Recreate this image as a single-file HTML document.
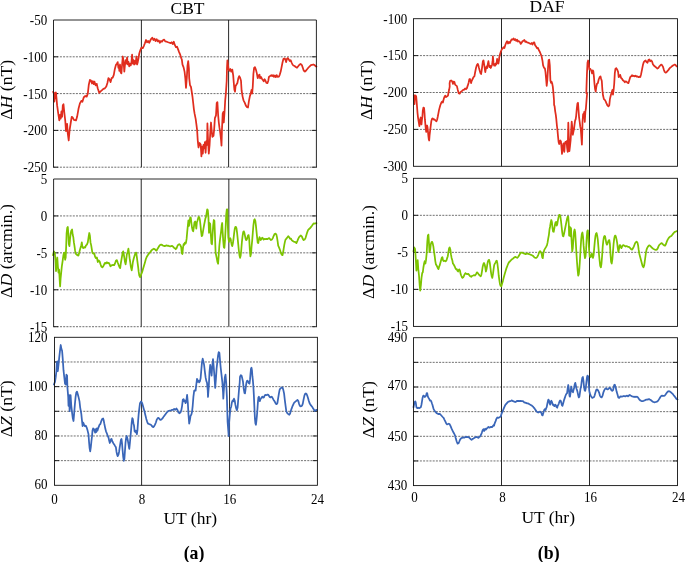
<!DOCTYPE html>
<html><head><meta charset="utf-8"><title>Figure</title>
<style>
html,body{margin:0;padding:0;background:#fff;}
svg{display:block;}
text{font-family:"Liberation Serif","Times New Roman",serif;fill:#000;}
.tk{font-size:15.6px;}
.ax{font-size:17.5px;}
.fr{fill:none;stroke:#111;stroke-width:0.9;}
.gd{stroke:#333;stroke-width:0.7;stroke-dasharray:2 1.2;}
.tm{stroke:#111;stroke-width:0.9;}
.vl{stroke:#111;stroke-width:0.9;}
.cv{fill:none;stroke-width:1.75;stroke-linejoin:round;stroke-linecap:round;}
</style></head><body>
<svg width="685" height="562" viewBox="0 0 685 562">
<rect width="685" height="562" fill="#fff"/>
<g id="L1">
<text class="tk" text-anchor="end" transform="translate(47.2,25.0) scale(0.835,1)">-50</text>
<line class="gd" x1="53.5" x2="316.4" y1="56.80" y2="56.80"/>
<line class="tm" x1="53.5" x2="58.0" y1="56.80" y2="56.80"/>
<line class="tm" x1="311.9" x2="316.4" y1="56.80" y2="56.80"/>
<text class="tk" text-anchor="end" transform="translate(47.2,61.8) scale(0.835,1)">-100</text>
<line class="gd" x1="53.5" x2="316.4" y1="93.60" y2="93.60"/>
<line class="tm" x1="53.5" x2="58.0" y1="93.60" y2="93.60"/>
<line class="tm" x1="311.9" x2="316.4" y1="93.60" y2="93.60"/>
<text class="tk" text-anchor="end" transform="translate(47.2,98.6) scale(0.835,1)">-150</text>
<line class="gd" x1="53.5" x2="316.4" y1="130.40" y2="130.40"/>
<line class="tm" x1="53.5" x2="58.0" y1="130.40" y2="130.40"/>
<line class="tm" x1="311.9" x2="316.4" y1="130.40" y2="130.40"/>
<text class="tk" text-anchor="end" transform="translate(47.2,135.4) scale(0.835,1)">-200</text>
<text class="tk" text-anchor="end" transform="translate(47.2,172.2) scale(0.835,1)">-250</text>
<line class="vl" x1="141.40" x2="141.40" y1="20.0" y2="167.2"/>
<line class="vl" x1="228.60" x2="228.60" y1="20.0" y2="167.2"/>
<path class="cv" stroke="#e02d1e" d="M53.2,91.9 L53.9,93.6 L54.3,101.7 L55.3,92.8 L55.9,92.4 L56.4,97.2 L57.1,105.2 L58.2,113.2 L59.3,120.4 L60.0,115.0 L60.7,118.6 L61.4,111.5 L62.1,116.8 L62.8,105.2 L63.5,104.3 L64.2,111.5 L65.3,121.2 L66.0,131.1 L67.1,123.9 L67.8,133.7 L68.7,140.5 L69.6,130.2 L70.7,123.0 L71.7,116.8 L72.8,117.7 L73.9,119.8 L76.0,120.4 L77.1,116.8 L78.5,108.8 L79.9,103.4 L81.3,100.8 L82.4,101.7 L83.8,97.2 L85.3,96.0 L86.7,96.7 L87.8,93.6 L88.8,84.7 L89.9,79.9 L91.0,80.6 L92.0,83.5 L92.8,81.2 L93.8,84.2 L94.5,81.7 L95.6,85.3 L96.7,83.8 L97.7,88.3 L99.2,92.8 L100.6,91.3 L102.0,90.1 L103.4,88.8 L104.9,88.3 L106.3,86.5 L107.4,83.0 L108.4,78.1 L109.5,79.4 L110.6,82.1 L111.6,78.1 L112.7,77.6 L113.8,74.9 L114.8,69.2 L115.9,65.1 L117.0,63.4 L117.7,62.1 L118.4,67.8 L119.1,66.0 L119.3,70.8 L120.0,64.5 L120.7,72.5 L121.4,73.4 L122.1,64.5 L122.8,56.5 L123.5,61.0 L124.3,71.7 L125.0,64.5 L125.7,60.1 L126.4,63.6 L127.1,57.4 L127.8,64.5 L128.5,61.9 L129.2,66.3 L130.0,63.6 L130.7,65.4 L131.4,62.8 L132.1,54.7 L132.8,63.6 L133.5,60.1 L134.2,64.5 L134.9,61.0 L135.7,63.6 L136.4,56.5 L137.1,64.5 L137.8,61.9 L138.5,58.3 L139.2,53.8 L140.3,50.3 L141.4,47.6 L142.8,48.1 L143.9,45.8 L144.9,43.2 L146.0,40.0 L147.1,42.3 L148.1,41.0 L149.2,42.8 L150.3,40.5 L151.3,38.7 L152.4,37.8 L153.5,40.0 L154.5,38.7 L155.6,41.0 L156.7,39.2 L157.8,41.4 L158.8,40.5 L159.9,42.8 L161.0,41.0 L162.0,41.7 L163.1,40.0 L164.2,39.6 L165.2,41.4 L166.7,41.7 L168.1,42.3 L169.5,42.8 L170.6,43.2 L171.6,42.3 L172.7,44.0 L173.8,41.7 L174.8,44.9 L175.9,47.1 L177.0,46.7 L178.1,49.4 L179.1,52.1 L180.2,54.7 L181.3,58.3 L181.8,59.4 L182.5,64.7 L183.6,67.4 L184.6,71.9 L185.3,78.1 L186.0,87.9 L186.8,78.1 L187.5,65.6 L188.2,61.2 L188.9,68.3 L189.2,78.1 L190.0,85.2 L191.0,87.0 L191.7,91.5 L192.5,96.8 L193.2,103.0 L193.9,109.3 L194.6,113.7 L195.7,119.1 L196.4,124.4 L197.1,129.8 L197.8,141.2 L198.5,147.5 L199.6,143.0 L200.7,144.5 L201.4,156.4 L202.1,146.6 L202.8,153.7 L203.5,144.8 L204.2,148.4 L204.9,142.1 L205.6,152.8 L206.3,141.2 L207.1,144.8 L207.4,123.4 L208.1,141.2 L208.8,153.7 L209.6,144.8 L210.3,132.3 L211.0,122.5 L211.7,130.6 L212.4,136.8 L213.5,135.9 L214.2,128.8 L214.9,118.1 L216.0,115.4 L216.7,103.0 L217.4,102.1 L218.1,114.5 L218.8,122.5 L219.5,127.9 L220.2,132.3 L221.0,139.5 L221.5,145.7 L222.0,128.8 L222.7,113.6 L223.4,111.9 L223.8,122.5 L224.5,112.8 L225.2,100.3 L225.9,93.2 L226.7,80.7 L227.0,67.8 L227.4,60.3 L228.0,64.8 L228.6,69.6 L229.5,70.8 L230.4,69.0 L231.3,71.6 L232.3,69.6 L233.2,75.4 L233.8,83.0 L234.4,89.8 L235.0,91.7 L235.6,86.0 L236.5,84.5 L237.4,83.0 L238.3,78.4 L239.2,76.1 L240.1,77.7 L241.0,80.7 L241.6,90.5 L242.6,96.6 L243.5,100.3 L244.7,102.6 L245.9,105.6 L247.1,107.2 L248.0,107.5 L248.9,101.1 L249.8,96.6 L250.7,93.5 L251.6,89.8 L252.2,93.5 L252.8,86.0 L253.4,73.9 L254.1,67.8 L254.9,67.1 L255.9,69.6 L256.8,73.1 L257.7,78.1 L258.6,75.4 L259.5,74.6 L260.1,78.4 L261.0,76.9 L261.9,78.7 L262.8,79.9 L263.7,81.4 L264.6,79.2 L265.5,80.7 L266.4,83.0 L267.4,83.2 L268.3,80.7 L268.9,76.9 L270.1,76.1 L271.3,75.1 L272.2,76.1 L273.1,75.1 L274.0,76.9 L274.9,75.4 L275.8,77.2 L276.7,75.1 L277.6,76.9 L278.9,76.6 L279.8,74.6 L280.7,71.6 L281.6,67.1 L282.5,62.5 L283.4,59.0 L284.3,58.4 L285.2,59.0 L286.1,62.1 L287.0,58.7 L287.9,58.1 L288.8,59.5 L289.8,61.0 L290.7,60.3 L291.6,62.5 L292.5,64.5 L293.4,65.5 L294.6,66.0 L295.8,67.1 L297.0,67.8 L298.2,66.3 L299.4,64.8 L300.6,64.0 L301.9,65.1 L302.8,67.8 L303.7,70.5 L304.9,71.6 L306.1,70.5 L307.3,69.0 L308.5,67.5 L309.7,66.3 L310.9,65.1 L312.1,64.8 L313.4,64.5 L314.6,65.1 L315.8,66.3 L316.4,66.6"/>
<path class="fr" d="M53.5,167.2 L53.5,20.0 L316.4,20.0 L316.4,167.2"/>
<line class="gd" x1="53.5" x2="316.4" y1="167.2" y2="167.2"/>
<line class="tm" x1="53.05" x2="58.0" y1="167.2" y2="167.2"/>
<line class="tm" x1="311.9" x2="316.84999999999997" y1="167.2" y2="167.2"/>
</g>
<g id="L2">
<text class="tk" text-anchor="end" transform="translate(47.3,184.0) scale(0.835,1)">5</text>
<line class="gd" x1="53.6" x2="316.45" y1="215.93" y2="215.93"/>
<line class="tm" x1="53.6" x2="58.1" y1="215.93" y2="215.93"/>
<line class="tm" x1="311.95" x2="316.45" y1="215.93" y2="215.93"/>
<text class="tk" text-anchor="end" transform="translate(47.3,220.9) scale(0.835,1)">0</text>
<line class="gd" x1="53.6" x2="316.45" y1="252.85" y2="252.85"/>
<line class="tm" x1="53.6" x2="58.1" y1="252.85" y2="252.85"/>
<line class="tm" x1="311.95" x2="316.45" y1="252.85" y2="252.85"/>
<text class="tk" text-anchor="end" transform="translate(47.3,257.9) scale(0.835,1)">-5</text>
<line class="gd" x1="53.6" x2="316.45" y1="289.77" y2="289.77"/>
<line class="tm" x1="53.6" x2="58.1" y1="289.77" y2="289.77"/>
<line class="tm" x1="311.95" x2="316.45" y1="289.77" y2="289.77"/>
<text class="tk" text-anchor="end" transform="translate(47.3,294.8) scale(0.835,1)">-10</text>
<text class="tk" text-anchor="end" transform="translate(47.3,331.7) scale(0.835,1)">-15</text>
<line class="vl" x1="141.22" x2="141.22" y1="179.0" y2="326.7"/>
<line class="vl" x1="228.83" x2="228.83" y1="179.0" y2="326.7"/>
<path class="cv" stroke="#7cc400" d="M53.0,255.2 L53.9,251.4 L54.8,252.9 L55.5,260.5 L56.0,271.1 L56.7,263.5 L57.3,257.5 L57.9,266.6 L58.5,272.6 L59.1,269.6 L59.7,280.2 L60.1,286.5 L60.6,278.7 L61.2,272.6 L61.8,266.6 L62.7,260.5 L63.3,256.0 L63.9,252.9 L64.5,252.7 L65.1,259.8 L65.7,257.5 L66.2,245.4 L66.6,233.3 L67.2,228.0 L67.8,226.9 L68.3,233.3 L68.8,243.9 L69.4,246.1 L70.0,239.3 L70.6,234.0 L71.2,231.0 L72.1,229.5 L72.7,234.8 L73.3,237.1 L73.9,242.4 L74.5,246.1 L75.1,250.7 L75.7,253.7 L76.6,254.5 L77.5,255.2 L78.4,255.7 L79.3,252.2 L80.3,248.4 L81.2,245.4 L81.8,242.4 L82.4,246.9 L83.3,248.1 L84.2,247.2 L85.1,247.7 L86.0,245.4 L86.9,244.6 L87.8,242.4 L88.7,236.3 L89.3,233.0 L89.9,235.6 L90.5,242.4 L91.2,245.4 L91.8,249.2 L92.4,252.9 L93.3,253.7 L94.2,253.2 L95.1,256.7 L96.0,258.2 L96.9,257.5 L97.8,262.0 L98.7,260.5 L99.6,261.3 L100.5,264.3 L101.4,266.6 L102.3,267.3 L103.2,266.3 L104.2,264.3 L105.1,262.8 L106.0,263.5 L106.9,262.3 L107.8,263.2 L108.7,262.8 L109.6,264.3 L110.5,266.3 L111.4,265.4 L112.3,265.1 L113.2,264.8 L114.2,265.1 L115.0,263.5 L116.0,260.5 L116.9,260.2 L117.8,262.8 L118.7,265.1 L119.6,267.3 L120.2,268.1 L120.8,263.5 L121.7,258.2 L122.6,252.9 L123.2,251.4 L123.8,254.5 L124.4,258.2 L125.0,262.0 L125.6,264.3 L126.2,260.5 L126.8,254.5 L127.8,251.4 L128.4,248.7 L129.0,252.9 L129.6,258.2 L130.2,262.0 L130.8,266.6 L131.7,270.4 L132.3,266.6 L132.9,262.0 L133.8,258.2 L134.7,255.2 L135.6,252.9 L136.2,252.7 L136.8,256.7 L137.4,261.3 L138.1,266.6 L138.7,271.9 L139.3,275.6 L140.2,277.2 L140.3,276.7 L141.2,274.4 L142.1,272.2 L143.0,269.1 L143.9,266.1 L144.8,263.1 L145.8,259.3 L146.7,257.0 L147.6,255.5 L148.5,254.3 L149.4,252.8 L150.3,252.2 L151.2,250.7 L152.1,249.8 L153.0,249.2 L153.9,248.7 L154.8,249.2 L155.7,250.2 L156.6,250.7 L157.6,248.7 L158.5,247.2 L159.4,245.7 L160.3,244.9 L161.2,244.6 L162.1,244.9 L163.0,245.7 L163.9,245.8 L164.8,246.1 L165.7,245.7 L166.6,245.4 L167.5,245.8 L168.4,245.7 L169.3,246.1 L170.3,246.4 L171.2,246.1 L172.1,245.8 L173.0,246.7 L173.9,247.7 L174.8,248.2 L175.7,249.2 L176.6,248.2 L177.5,245.7 L178.4,244.6 L179.3,244.2 L180.2,244.9 L181.2,247.2 L181.8,253.2 L182.4,254.0 L183.0,247.9 L183.6,244.2 L184.2,244.9 L184.8,242.7 L185.4,243.7 L186.0,242.7 L186.6,238.9 L187.2,232.1 L187.8,226.0 L188.4,220.4 L189.0,226.0 L189.6,221.5 L190.2,217.4 L190.8,217.7 L191.4,223.0 L192.0,227.5 L192.7,230.6 L193.2,231.3 L193.9,226.8 L194.5,222.2 L195.1,221.5 L195.7,223.7 L196.3,228.6 L196.9,222.2 L197.5,220.7 L198.1,218.4 L198.7,216.9 L199.3,217.4 L199.9,220.0 L200.5,225.3 L201.1,231.3 L201.7,236.2 L202.3,235.5 L202.9,232.1 L203.5,228.3 L204.2,224.5 L204.8,221.5 L205.4,218.4 L206.0,216.9 L206.6,213.2 L207.2,209.4 L207.8,210.1 L208.4,216.9 L209.0,232.8 L209.6,223.0 L210.2,223.7 L210.8,234.3 L211.4,243.4 L212.0,244.2 L212.6,234.3 L213.2,225.3 L213.8,220.0 L214.4,220.7 L215.0,235.8 L215.6,252.5 L216.2,255.5 L216.8,258.5 L217.5,262.3 L218.1,263.8 L218.7,255.5 L219.3,246.4 L219.9,240.4 L220.5,235.8 L221.1,231.3 L221.7,225.3 L222.2,223.0 L222.6,231.3 L223.2,240.4 L223.8,247.2 L224.4,247.9 L225.0,240.4 L225.6,228.3 L226.2,214.7 L226.8,209.4 L227.3,209.4 L227.8,225.3 L228.3,237.4 L229.0,241.9 L229.6,238.9 L230.2,238.1 L230.8,239.6 L231.1,241.9 L231.7,244.9 L232.3,246.1 L232.9,243.4 L233.5,238.9 L234.1,233.6 L234.7,229.0 L235.3,227.1 L235.9,226.8 L236.5,228.3 L237.1,232.8 L237.7,238.9 L238.3,244.9 L238.9,251.0 L239.5,255.5 L240.1,257.8 L240.7,255.5 L241.3,249.5 L241.9,241.9 L242.6,235.8 L243.2,232.1 L243.8,231.3 L244.4,232.8 L245.0,235.8 L245.6,238.9 L246.2,240.1 L246.8,239.6 L247.4,237.4 L248.0,235.5 L248.6,235.1 L249.2,238.9 L249.8,249.5 L250.4,256.3 L251.0,254.0 L251.6,246.4 L252.2,240.4 L252.8,232.8 L253.4,225.3 L254.1,220.0 L254.7,219.2 L255.3,220.7 L255.9,225.3 L256.5,231.3 L257.1,237.4 L257.7,242.7 L258.3,243.1 L258.9,239.6 L259.5,237.1 L260.1,238.1 L260.7,240.1 L261.3,239.2 L261.9,238.1 L262.5,237.7 L263.1,238.9 L263.7,239.6 L264.6,238.9 L265.5,239.2 L266.4,238.9 L267.4,239.2 L268.3,238.6 L269.2,238.1 L270.1,239.2 L271.0,240.1 L271.9,239.6 L272.8,238.1 L273.7,235.8 L274.6,234.0 L275.5,233.6 L276.4,234.6 L277.0,237.4 L277.6,241.1 L278.2,245.7 L279.2,247.9 L280.1,250.2 L281.0,253.2 L281.9,254.8 L282.5,255.2 L283.1,252.5 L283.7,248.7 L284.3,244.9 L284.9,241.9 L285.5,239.6 L286.4,238.6 L287.3,237.4 L288.2,236.2 L289.1,237.1 L290.1,238.9 L291.0,238.6 L291.9,240.4 L292.8,241.1 L293.7,241.6 L294.6,241.9 L295.5,242.2 L296.4,243.1 L297.3,241.1 L298.2,238.9 L299.1,237.1 L300.0,236.2 L300.9,235.5 L301.9,236.6 L302.8,238.9 L303.7,240.1 L304.6,239.6 L305.5,238.1 L306.4,235.1 L307.3,232.1 L308.2,229.8 L309.1,229.0 L310.0,228.3 L310.9,227.1 L311.8,226.0 L312.8,224.5 L313.6,223.4 L314.6,223.7 L315.5,223.4 L316.4,223.1"/>
<path class="fr" d="M53.6,326.7 L53.6,179.0 L316.45,179.0 L316.45,326.7"/>
<line class="gd" x1="53.6" x2="316.45" y1="326.7" y2="326.7"/>
<line class="tm" x1="53.15" x2="58.1" y1="326.7" y2="326.7"/>
<line class="tm" x1="311.95" x2="316.9" y1="326.7" y2="326.7"/>
</g>
<g id="L3">
<text class="tk" text-anchor="end" transform="translate(47.6,341.6) scale(0.835,1)">120</text>
<line class="gd" x1="54.5" x2="317.4" y1="361.97" y2="361.97"/>
<line class="tm" x1="54.5" x2="59.0" y1="361.97" y2="361.97"/>
<line class="tm" x1="312.9" x2="317.4" y1="361.97" y2="361.97"/>
<line class="gd" x1="54.5" x2="317.4" y1="386.63" y2="386.63"/>
<line class="tm" x1="54.5" x2="59.0" y1="386.63" y2="386.63"/>
<line class="tm" x1="312.9" x2="317.4" y1="386.63" y2="386.63"/>
<text class="tk" text-anchor="end" transform="translate(47.6,390.9) scale(0.835,1)">100</text>
<line class="gd" x1="54.5" x2="317.4" y1="411.30" y2="411.30"/>
<line class="tm" x1="54.5" x2="59.0" y1="411.30" y2="411.30"/>
<line class="tm" x1="312.9" x2="317.4" y1="411.30" y2="411.30"/>
<line class="gd" x1="54.5" x2="317.4" y1="435.97" y2="435.97"/>
<line class="tm" x1="54.5" x2="59.0" y1="435.97" y2="435.97"/>
<line class="tm" x1="312.9" x2="317.4" y1="435.97" y2="435.97"/>
<text class="tk" text-anchor="end" transform="translate(47.6,440.3) scale(0.835,1)">80</text>
<line class="gd" x1="54.5" x2="317.4" y1="460.63" y2="460.63"/>
<line class="tm" x1="54.5" x2="59.0" y1="460.63" y2="460.63"/>
<line class="tm" x1="312.9" x2="317.4" y1="460.63" y2="460.63"/>
<text class="tk" text-anchor="end" transform="translate(47.6,488.8) scale(0.835,1)">60</text>
<line class="vl" x1="141.60" x2="141.60" y1="337.3" y2="485.3"/>
<line class="vl" x1="229.55" x2="229.55" y1="337.3" y2="485.3"/>
<path class="cv" stroke="#3a66b8" d="M53.9,384.5 L55.0,381.8 L55.7,377.4 L56.4,371.1 L56.8,362.2 L57.5,361.4 L57.8,371.1 L58.5,364.9 L59.2,357.8 L60.0,350.7 L60.7,345.0 L61.4,348.9 L62.1,350.7 L62.8,359.6 L63.5,370.2 L64.2,376.5 L65.0,383.6 L65.7,384.5 L66.4,374.7 L67.1,375.6 L67.4,387.1 L68.2,396.9 L68.5,405.8 L69.2,395.2 L69.6,411.2 L70.3,398.7 L70.6,395.2 L71.3,405.8 L72.1,412.9 L72.8,418.3 L73.5,421.0 L74.2,412.9 L74.9,404.1 L75.6,396.9 L76.3,392.5 L77.0,391.6 L77.8,394.3 L78.5,396.9 L79.5,401.4 L80.2,407.6 L81.3,413.8 L81.8,418.9 L82.6,426.2 L83.2,422.5 L84.1,424.7 L85.0,426.2 L85.8,425.7 L86.7,427.6 L87.6,430.6 L88.5,434.2 L89.0,441.5 L89.6,448.1 L90.2,451.4 L90.8,447.3 L91.4,441.5 L92.0,436.4 L92.5,430.6 L93.1,428.4 L94.0,429.1 L94.6,431.3 L95.2,432.7 L95.8,429.1 L96.3,432.0 L96.9,428.4 L97.5,430.6 L98.1,428.4 L98.7,426.9 L99.6,424.7 L100.4,424.0 L101.3,421.1 L102.2,418.9 L103.1,418.4 L103.7,420.3 L104.2,423.2 L104.8,426.2 L105.4,429.1 L106.0,431.3 L106.9,433.5 L107.7,435.7 L108.6,437.9 L109.2,440.8 L109.8,443.0 L110.4,441.5 L111.0,439.3 L111.5,438.9 L112.4,441.5 L113.3,443.2 L114.2,444.4 L115.0,445.9 L115.9,447.3 L116.5,451.7 L117.1,454.6 L117.7,456.1 L118.5,454.6 L119.1,451.7 L119.7,447.3 L120.3,443.7 L120.9,440.0 L121.5,438.9 L122.0,443.0 L122.6,450.3 L123.2,456.8 L123.8,460.8 L124.4,459.0 L125.0,450.3 L125.5,443.0 L126.1,437.9 L126.7,435.9 L127.3,437.9 L127.9,440.8 L128.5,444.4 L129.1,448.1 L129.3,448.8 L129.9,443.0 L130.5,436.4 L131.1,429.8 L131.7,422.5 L132.3,418.1 L132.8,418.9 L133.4,423.2 L134.0,425.4 L134.6,431.3 L135.2,432.0 L135.8,430.6 L136.3,432.7 L136.9,434.2 L137.5,429.8 L138.1,421.1 L138.7,413.8 L139.3,408.6 L140.0,403.2 L141.1,401.4 L142.2,403.2 L143.2,406.7 L143.7,408.6 L144.5,411.6 L145.4,415.2 L146.3,418.9 L147.2,421.8 L148.0,423.7 L148.9,424.0 L149.8,424.3 L150.7,424.7 L151.5,425.4 L152.4,426.6 L153.3,427.2 L154.2,426.2 L155.0,424.7 L155.9,422.5 L156.8,419.6 L157.7,418.1 L158.5,417.9 L159.4,418.9 L160.3,419.9 L161.2,419.6 L162.0,418.9 L162.9,417.9 L163.8,416.4 L164.7,415.2 L165.6,414.1 L166.4,413.0 L167.3,412.0 L167.8,411.5 L168.9,410.8 L170.0,410.5 L171.0,410.3 L172.1,409.9 L173.2,409.8 L174.2,409.0 L175.3,409.8 L176.4,408.5 L177.4,409.8 L178.5,412.6 L179.6,413.3 L180.6,412.1 L181.3,410.3 L182.1,405.8 L182.8,399.6 L183.5,399.1 L184.2,401.4 L184.9,400.5 L185.6,403.2 L186.3,401.4 L187.1,394.8 L187.8,402.3 L188.5,414.7 L189.2,423.6 L189.9,420.1 L190.6,415.6 L191.3,414.7 L192.0,412.1 L192.7,405.8 L193.4,396.9 L194.2,390.7 L194.9,390.2 L195.6,390.7 L196.3,384.5 L197.0,378.8 L197.7,381.8 L198.4,380.6 L199.2,382.4 L199.9,381.3 L200.6,378.3 L201.3,370.2 L202.0,362.2 L202.7,358.7 L203.4,361.4 L204.1,364.9 L204.8,371.1 L205.6,377.4 L206.3,380.9 L207.0,382.7 L207.7,389.8 L208.0,396.9 L208.8,386.3 L209.5,372.0 L210.2,364.9 L210.9,369.4 L211.6,375.6 L212.3,365.8 L213.0,359.2 L213.7,366.7 L214.4,375.6 L215.2,388.0 L215.9,379.1 L216.6,368.5 L217.3,362.2 L218.0,356.0 L218.7,352.1 L219.4,352.8 L220.1,361.4 L220.8,368.5 L221.6,375.6 L222.3,381.8 L223.0,391.6 L223.3,398.7 L224.1,386.3 L224.8,377.4 L225.5,374.7 L226.2,382.7 L226.9,396.9 L227.3,411.2 L227.6,421.9 L228.3,430.8 L228.7,436.1 L229.0,423.6 L229.8,414.7 L230.5,408.5 L231.2,406.7 L231.9,402.3 L232.6,400.5 L233.3,401.4 L234.0,398.7 L234.7,400.5 L235.4,404.9 L236.2,408.5 L236.9,410.3 L237.6,407.6 L238.3,398.7 L239.0,389.8 L239.7,382.7 L240.0,376.8 L240.8,375.2 L241.5,375.6 L242.2,378.1 L243.0,381.8 L243.7,388.6 L244.5,393.0 L245.0,393.4 L245.5,389.9 L246.0,385.5 L246.5,382.4 L247.2,380.6 L248.0,381.2 L248.7,383.0 L249.5,383.7 L250.0,379.9 L250.5,373.7 L251.0,368.7 L251.5,367.7 L252.0,370.6 L252.4,376.2 L252.9,380.6 L253.4,386.8 L253.9,396.1 L254.4,407.3 L254.9,418.5 L255.4,423.5 L255.9,424.8 L256.4,421.0 L256.9,416.0 L257.4,409.8 L257.9,402.3 L258.4,397.4 L258.9,396.7 L259.4,399.9 L259.9,401.1 L260.4,399.2 L260.9,398.6 L261.7,397.4 L262.4,396.7 L263.2,397.6 L263.9,397.4 L264.7,395.5 L265.4,394.9 L266.1,395.1 L266.9,394.9 L267.6,394.6 L268.4,394.9 L269.1,396.1 L269.9,397.1 L270.6,397.4 L271.4,396.7 L272.1,397.1 L272.9,398.6 L273.6,399.9 L274.4,401.1 L275.1,402.3 L275.9,403.8 L276.6,404.2 L277.4,403.0 L278.1,398.6 L278.9,393.6 L279.6,389.9 L280.4,388.4 L281.1,388.0 L281.8,387.4 L282.6,387.6 L283.3,389.9 L284.1,393.6 L284.8,399.9 L285.6,406.1 L286.3,411.1 L287.1,412.9 L287.8,413.6 L288.6,414.2 L289.3,414.8 L290.1,413.6 L290.8,411.1 L291.6,408.6 L292.3,406.7 L293.1,404.8 L293.8,403.3 L294.6,402.3 L295.3,401.7 L296.0,401.1 L296.8,400.5 L297.5,399.9 L298.3,401.1 L299.0,403.6 L299.8,405.8 L300.5,406.3 L301.3,406.1 L302.0,405.8 L302.8,403.6 L303.5,399.9 L304.3,396.1 L305.0,393.9 L305.8,393.4 L306.5,393.9 L307.2,395.5 L308.0,398.0 L308.7,400.5 L309.5,403.0 L310.2,404.2 L311.0,405.4 L311.7,406.3 L312.5,407.3 L313.2,408.6 L314.0,409.8 L314.7,411.1 L315.5,410.4 L316.2,409.8 L317.0,410.1"/>
<rect class="fr" x="54.5" y="337.3" width="262.9" height="148.0"/>
</g>
<g id="R1">
<text class="tk" text-anchor="end" transform="translate(407.2,23.8) scale(0.835,1)">-100</text>
<line class="gd" x1="413.5" x2="677.5" y1="55.60" y2="55.60"/>
<line class="tm" x1="413.5" x2="418.0" y1="55.60" y2="55.60"/>
<line class="tm" x1="673.0" x2="677.5" y1="55.60" y2="55.60"/>
<text class="tk" text-anchor="end" transform="translate(407.2,59.8) scale(0.835,1)">-150</text>
<line class="gd" x1="413.5" x2="677.5" y1="92.50" y2="92.50"/>
<line class="tm" x1="413.5" x2="418.0" y1="92.50" y2="92.50"/>
<line class="tm" x1="673.0" x2="677.5" y1="92.50" y2="92.50"/>
<text class="tk" text-anchor="end" transform="translate(407.2,96.7) scale(0.835,1)">-200</text>
<line class="gd" x1="413.5" x2="677.5" y1="129.40" y2="129.40"/>
<line class="tm" x1="413.5" x2="418.0" y1="129.40" y2="129.40"/>
<line class="tm" x1="673.0" x2="677.5" y1="129.40" y2="129.40"/>
<text class="tk" text-anchor="end" transform="translate(407.2,133.6) scale(0.835,1)">-250</text>
<text class="tk" text-anchor="end" transform="translate(407.2,170.5) scale(0.835,1)">-300</text>
<line class="vl" x1="501.50" x2="501.50" y1="18.7" y2="166.3"/>
<line class="vl" x1="589.50" x2="589.50" y1="18.7" y2="166.3"/>
<path class="cv" stroke="#e02d1e" d="M413.8,95.1 L414.5,104.2 L414.9,95.7 L415.6,95.5 L416.2,96.7 L416.6,101.0 L417.0,106.3 L417.5,112.8 L418.1,118.1 L418.8,122.3 L419.4,126.1 L419.8,123.4 L420.2,119.2 L420.7,117.5 L421.1,121.3 L421.5,124.5 L421.9,120.2 L422.4,116.5 L422.8,110.6 L423.4,107.6 L424.1,108.0 L424.5,112.8 L424.9,119.2 L425.4,125.0 L425.8,128.8 L426.2,132.0 L426.6,127.7 L427.1,125.5 L427.5,127.2 L427.9,130.9 L428.4,136.2 L428.8,139.4 L429.2,140.5 L429.6,135.2 L430.1,130.9 L430.5,127.7 L430.9,124.5 L431.3,121.3 L432.0,118.9 L432.6,118.3 L433.3,118.9 L433.9,119.7 L434.6,119.4 L435.2,120.2 L435.8,120.8 L436.5,121.3 L437.1,119.7 L437.8,116.5 L438.4,113.3 L439.0,110.1 L439.7,107.4 L440.3,105.3 L440.9,103.7 L441.6,102.1 L442.2,101.5 L442.9,102.6 L443.5,99.9 L444.1,97.8 L444.8,96.2 L445.4,95.7 L446.1,97.0 L446.7,96.5 L447.4,96.2 L448.0,95.7 L448.4,93.0 L449.1,89.8 L449.7,86.6 L449.6,83.1 L450.2,80.8 L451.1,80.5 L452.1,81.2 L453.0,83.9 L453.6,81.6 L454.5,82.1 L455.1,84.6 L456.0,85.4 L456.9,86.1 L457.8,89.9 L458.7,93.2 L459.6,93.7 L460.5,92.2 L461.4,91.4 L462.3,90.7 L463.2,89.9 L464.2,89.6 L465.1,88.4 L466.0,89.2 L466.9,88.1 L467.8,85.4 L468.7,82.4 L469.3,79.3 L469.9,79.0 L470.5,80.8 L471.1,83.1 L471.7,80.8 L472.6,79.0 L473.5,77.1 L474.4,76.3 L475.1,72.5 L476.0,68.0 L476.9,65.0 L477.8,63.9 L478.4,65.4 L479.0,68.0 L479.6,70.3 L480.5,73.3 L481.1,74.0 L481.7,70.3 L482.3,65.7 L482.9,61.2 L483.5,60.4 L484.1,64.2 L484.7,68.0 L485.3,72.1 L485.9,68.7 L486.6,66.5 L487.2,68.0 L487.8,64.2 L488.4,61.2 L489.0,65.0 L489.6,67.2 L490.2,65.7 L490.8,68.0 L491.4,66.5 L492.0,65.0 L492.6,61.2 L492.9,56.3 L493.5,62.7 L494.1,65.7 L494.7,64.2 L495.3,65.7 L495.9,63.5 L496.5,64.2 L497.1,58.9 L497.8,62.7 L498.4,63.5 L499.0,60.4 L499.2,57.8 L499.8,55.1 L500.8,51.8 L501.7,49.5 L502.6,48.4 L503.5,47.2 L504.4,48.0 L505.3,45.0 L506.2,42.7 L507.1,41.2 L508.0,43.5 L508.9,41.9 L509.8,43.0 L510.7,41.2 L511.6,39.4 L512.5,39.7 L513.5,38.5 L514.4,40.0 L515.3,39.1 L516.2,40.9 L517.1,39.7 L518.0,41.5 L518.9,41.2 L519.8,41.9 L520.7,43.9 L521.6,42.7 L522.5,41.2 L523.4,40.9 L524.4,40.0 L525.3,41.9 L526.2,41.5 L527.1,42.4 L528.0,42.7 L528.9,43.0 L529.8,43.5 L530.7,43.9 L531.6,43.0 L532.5,44.5 L533.4,42.7 L534.3,42.4 L535.2,45.4 L536.1,46.5 L537.1,48.4 L538.0,48.0 L538.9,50.3 L539.8,51.8 L540.7,54.0 L541.6,56.3 L542.5,60.9 L543.1,65.4 L544.0,67.7 L544.9,68.4 L545.5,72.2 L546.1,79.0 L546.7,85.8 L547.3,80.5 L548.0,68.4 L548.6,60.1 L549.2,59.6 L549.8,65.4 L550.4,80.5 L551.0,82.8 L551.6,81.7 L552.2,83.5 L552.8,86.6 L553.4,92.6 L554.0,100.2 L554.1,104.9 L554.6,106.3 L555.2,111.3 L555.8,114.9 L556.3,119.1 L556.9,125.5 L557.5,130.5 L558.0,136.2 L558.6,141.9 L559.2,144.0 L559.8,141.2 L560.3,140.5 L560.9,141.2 L561.5,147.6 L562.0,154.0 L562.6,149.0 L563.2,144.0 L563.7,143.3 L564.3,151.9 L564.9,144.0 L565.4,141.9 L566.0,143.3 L566.6,141.2 L567.1,147.6 L567.7,151.9 L568.3,122.7 L568.9,139.1 L569.4,151.2 L570.0,146.2 L570.6,140.5 L571.1,131.9 L571.7,121.7 L572.3,127.7 L572.8,134.8 L573.4,131.9 L574.0,129.1 L574.5,124.8 L575.1,120.6 L575.7,119.1 L576.2,115.6 L576.8,108.5 L577.4,103.5 L578.0,102.8 L578.5,109.9 L579.1,117.7 L579.7,122.0 L580.2,126.2 L580.8,129.1 L581.4,137.6 L581.9,144.7 L582.2,134.8 L582.5,122.0 L583.1,114.2 L583.6,117.7 L584.2,112.0 L584.8,122.0 L585.4,111.3 L585.9,108.5 L586.5,100.7 L587.1,93.5 L586.3,93.1 L586.9,74.9 L587.5,62.8 L588.1,60.5 L588.8,64.3 L589.4,69.6 L590.3,68.9 L591.2,70.4 L592.1,73.4 L592.7,70.4 L593.3,71.1 L593.9,76.4 L594.5,84.0 L595.1,89.3 L595.7,91.6 L596.3,87.0 L596.9,84.0 L597.8,83.2 L598.7,79.5 L599.6,77.2 L600.5,76.4 L601.1,78.7 L601.8,81.0 L602.4,90.0 L603.0,95.3 L603.9,99.1 L604.8,99.9 L605.7,101.4 L606.6,103.7 L607.5,105.5 L608.4,106.4 L609.3,105.2 L609.9,99.1 L610.8,95.3 L611.7,92.3 L612.4,90.0 L613.0,94.6 L613.6,90.0 L614.2,84.0 L614.8,73.4 L615.4,68.9 L616.3,68.1 L617.2,69.6 L618.1,71.9 L618.7,77.2 L619.6,76.4 L620.2,74.9 L621.1,78.0 L622.0,78.7 L622.9,80.2 L623.9,81.0 L624.8,82.2 L625.7,81.3 L626.6,81.7 L627.5,82.8 L628.4,83.2 L629.3,80.2 L630.2,77.2 L631.1,76.4 L632.0,75.2 L632.9,76.1 L633.8,75.7 L634.7,76.4 L635.6,75.7 L636.6,76.7 L637.5,76.4 L638.4,77.2 L639.3,76.7 L640.2,77.2 L641.1,74.2 L642.0,69.6 L642.9,65.1 L643.8,62.1 L644.7,61.0 L645.6,60.5 L646.5,62.1 L647.5,62.8 L648.4,60.1 L649.3,59.5 L650.2,61.3 L651.1,60.5 L652.0,61.3 L652.9,64.3 L653.8,65.5 L654.7,66.2 L655.6,67.1 L656.5,67.7 L657.4,68.6 L658.3,68.1 L659.2,66.6 L660.2,65.5 L661.1,64.6 L662.0,65.1 L662.9,66.6 L663.8,69.6 L664.7,71.9 L665.6,72.7 L666.5,72.2 L667.4,71.1 L668.3,70.1 L669.2,68.9 L670.1,67.8 L671.0,67.1 L672.0,66.2 L672.9,65.5 L673.8,65.1 L674.7,64.6 L675.6,65.1 L676.5,66.2 L677.1,66.6"/>
<rect class="fr" x="413.5" y="18.7" width="264.0" height="147.6"/>
</g>
<g id="R2">
<text class="tk" text-anchor="end" transform="translate(408.0,182.7) scale(0.835,1)">5</text>
<line class="gd" x1="413.5" x2="677.5" y1="215.32" y2="215.32"/>
<line class="tm" x1="413.5" x2="418.0" y1="215.32" y2="215.32"/>
<line class="tm" x1="673.0" x2="677.5" y1="215.32" y2="215.32"/>
<text class="tk" text-anchor="end" transform="translate(408.0,219.7) scale(0.835,1)">0</text>
<line class="gd" x1="413.5" x2="677.5" y1="252.35" y2="252.35"/>
<line class="tm" x1="413.5" x2="418.0" y1="252.35" y2="252.35"/>
<line class="tm" x1="673.0" x2="677.5" y1="252.35" y2="252.35"/>
<text class="tk" text-anchor="end" transform="translate(408.0,256.8) scale(0.835,1)">-5</text>
<line class="gd" x1="413.5" x2="677.5" y1="289.38" y2="289.38"/>
<line class="tm" x1="413.5" x2="418.0" y1="289.38" y2="289.38"/>
<line class="tm" x1="673.0" x2="677.5" y1="289.38" y2="289.38"/>
<text class="tk" text-anchor="end" transform="translate(408.0,293.8) scale(0.835,1)">-10</text>
<text class="tk" text-anchor="end" transform="translate(408.0,330.8) scale(0.835,1)">-15</text>
<line class="vl" x1="501.50" x2="501.50" y1="178.3" y2="326.4"/>
<line class="vl" x1="589.50" x2="589.50" y1="178.3" y2="326.4"/>
<path class="cv" stroke="#7cc400" d="M413.5,251.4 L414.2,247.4 L415.1,249.0 L415.8,259.4 L416.4,270.7 L417.1,264.3 L417.7,260.2 L418.3,269.1 L419.0,275.5 L419.6,284.3 L420.2,290.7 L420.9,285.1 L421.5,277.9 L422.2,273.1 L422.8,272.3 L423.4,267.5 L424.1,263.5 L424.7,261.1 L425.4,263.5 L426.0,260.2 L426.7,253.1 L427.3,241.8 L427.9,235.4 L428.4,234.6 L428.9,241.8 L429.5,252.2 L430.2,249.8 L430.8,244.2 L431.5,242.2 L432.1,241.8 L432.7,243.4 L433.4,246.6 L434.0,251.4 L434.7,256.2 L435.3,261.1 L435.9,264.3 L436.6,265.5 L437.2,266.7 L437.9,268.3 L438.5,269.1 L439.1,266.7 L439.8,265.1 L440.4,262.7 L441.1,260.2 L441.7,257.9 L442.4,257.1 L443.0,260.2 L443.6,261.1 L444.6,260.7 L445.6,261.4 L446.5,260.2 L447.2,257.9 L447.8,256.2 L448.4,252.2 L449.1,248.2 L449.7,247.4 L450.4,249.8 L451.0,254.7 L451.6,257.9 L452.3,260.2 L452.9,263.5 L453.6,264.3 L454.2,265.5 L454.8,266.7 L455.5,268.3 L456.1,269.4 L456.8,269.1 L457.4,270.7 L458.1,271.5 L458.7,269.9 L459.3,269.4 L460.0,270.7 L460.6,273.9 L461.2,275.5 L461.9,277.1 L462.5,277.9 L463.2,277.4 L463.8,276.3 L464.4,274.7 L465.4,273.1 L466.4,273.9 L467.3,274.2 L468.3,273.9 L469.3,275.1 L470.2,276.3 L471.2,276.8 L472.1,275.8 L473.1,275.5 L474.1,275.1 L475.0,275.5 L476.0,274.2 L476.9,272.3 L477.9,273.1 L478.9,274.7 L479.8,275.5 L480.8,276.3 L481.4,274.7 L482.1,270.7 L482.7,266.7 L483.4,263.9 L484.0,263.0 L484.6,264.3 L485.3,267.5 L485.9,271.5 L486.6,269.1 L487.2,265.1 L487.8,261.9 L488.5,260.2 L489.1,259.8 L489.8,262.7 L490.4,267.5 L491.0,272.3 L491.7,276.3 L492.3,277.9 L493.0,273.9 L493.6,269.1 L494.2,265.1 L494.9,263.5 L495.5,262.7 L496.2,261.1 L496.8,260.7 L497.4,263.5 L498.1,269.1 L498.7,275.5 L499.4,280.3 L500.0,284.3 L500.6,285.9 L501.3,286.4 L502.0,284.0 L502.9,280.9 L503.8,277.2 L504.7,274.1 L505.6,271.1 L506.5,268.1 L507.4,265.8 L508.3,263.5 L509.2,262.0 L510.1,261.3 L511.0,260.2 L511.9,259.3 L512.9,258.7 L513.8,257.8 L514.7,257.2 L515.6,256.9 L516.5,257.5 L517.4,257.8 L518.3,256.7 L519.2,255.2 L520.1,253.7 L521.0,252.7 L521.9,252.7 L522.8,252.9 L523.7,253.4 L524.6,253.7 L525.6,254.2 L526.5,253.7 L527.4,253.4 L528.3,253.9 L529.2,254.2 L530.1,254.5 L531.0,254.8 L531.9,255.2 L532.8,255.7 L533.7,256.7 L534.6,257.5 L535.5,257.9 L536.5,257.8 L537.4,256.7 L538.3,254.8 L539.2,252.2 L540.1,251.1 L541.0,252.2 L541.6,253.7 L542.2,257.2 L542.8,258.2 L543.4,252.9 L544.3,249.9 L545.2,248.4 L546.1,246.9 L547.0,245.1 L547.6,242.4 L548.2,238.6 L548.9,234.8 L549.5,229.5 L550.1,226.5 L550.7,222.7 L551.3,220.0 L551.9,221.9 L552.5,228.0 L553.1,231.5 L553.7,231.8 L554.3,228.7 L554.9,225.0 L555.5,222.4 L556.1,221.9 L556.7,225.7 L557.3,224.2 L557.9,220.4 L558.5,217.4 L559.1,215.1 L559.8,214.8 L560.4,216.6 L561.0,221.2 L561.6,226.5 L562.2,231.8 L562.8,236.0 L563.4,236.3 L564.0,234.0 L564.6,231.0 L565.2,228.0 L565.8,225.0 L566.4,221.9 L567.0,218.9 L567.6,216.9 L568.2,216.6 L568.8,224.2 L569.1,235.6 L569.7,226.5 L570.3,236.3 L571.0,228.0 L571.5,239.3 L572.2,251.4 L572.8,248.4 L573.4,239.3 L574.0,231.8 L574.6,229.5 L575.2,232.5 L575.8,242.4 L576.4,252.9 L577.0,262.0 L577.6,269.6 L578.2,275.6 L578.8,274.1 L579.4,268.1 L580.0,259.0 L580.6,248.4 L581.2,239.3 L581.8,234.0 L582.4,232.5 L583.0,236.3 L583.6,245.4 L584.3,252.9 L584.9,258.2 L585.5,256.7 L586.1,249.9 L586.7,237.8 L587.3,231.0 L587.9,230.3 L588.5,239.3 L589.1,249.9 L589.7,256.7 L590.3,257.2 L590.9,256.3 L591.8,253.7 L592.4,257.2 L593.0,257.8 L593.6,255.2 L594.2,248.4 L594.8,241.6 L595.4,236.3 L596.0,233.6 L596.6,233.0 L597.2,235.6 L597.8,239.6 L598.4,246.9 L599.0,254.5 L599.6,260.5 L600.2,265.8 L600.9,267.3 L601.5,263.5 L602.1,256.0 L602.7,246.9 L603.3,240.8 L603.9,237.1 L604.5,236.0 L605.1,236.3 L605.7,239.6 L606.3,243.1 L606.9,244.6 L607.5,243.9 L608.1,241.6 L608.7,240.5 L609.3,240.1 L609.9,243.9 L610.5,254.5 L611.1,262.0 L611.7,263.5 L612.4,259.0 L613.0,251.4 L613.6,243.9 L614.2,238.6 L614.8,236.0 L615.4,235.6 L616.0,237.1 L616.6,239.6 L617.2,243.1 L617.8,248.4 L618.4,252.2 L619.0,249.2 L619.6,245.4 L620.2,245.1 L620.8,246.9 L621.4,248.1 L622.0,246.9 L622.6,245.7 L623.2,245.1 L623.9,245.4 L624.8,246.1 L625.7,246.6 L626.6,246.1 L627.5,246.6 L628.4,246.9 L629.3,247.2 L630.2,248.1 L631.1,249.2 L632.0,249.6 L632.9,248.4 L633.8,246.6 L634.7,244.2 L635.6,242.4 L636.6,241.6 L637.5,242.7 L638.1,245.4 L638.7,249.9 L639.3,253.7 L639.9,256.0 L640.5,258.2 L641.1,260.5 L641.7,262.8 L642.3,265.1 L642.9,266.6 L643.5,267.3 L644.1,265.8 L644.7,262.0 L645.3,257.5 L645.9,252.9 L646.5,249.9 L647.1,248.1 L647.8,246.9 L648.7,245.7 L649.6,245.4 L650.5,246.1 L651.4,247.2 L652.3,248.1 L653.2,248.7 L654.1,249.2 L655.0,249.6 L655.9,249.9 L656.8,249.6 L657.7,248.4 L658.6,246.1 L659.5,244.6 L660.5,243.9 L661.4,243.1 L662.3,243.6 L663.2,244.6 L664.1,245.4 L665.0,245.7 L665.9,244.2 L666.8,241.6 L667.7,239.6 L668.6,238.1 L669.5,237.1 L670.4,236.3 L671.4,236.0 L672.3,234.8 L673.2,233.6 L674.1,232.5 L675.0,231.8 L675.9,231.5 L676.8,231.2"/>
<rect class="fr" x="413.5" y="178.3" width="264.0" height="148.1"/>
</g>
<g id="R3">
<text class="tk" text-anchor="end" transform="translate(407.2,342.4) scale(0.835,1)">490</text>
<line class="gd" x1="413.5" x2="677.5" y1="362.35" y2="362.35"/>
<line class="tm" x1="413.5" x2="418.0" y1="362.35" y2="362.35"/>
<line class="tm" x1="673.0" x2="677.5" y1="362.35" y2="362.35"/>
<line class="gd" x1="413.5" x2="677.5" y1="387.00" y2="387.00"/>
<line class="tm" x1="413.5" x2="418.0" y1="387.00" y2="387.00"/>
<line class="tm" x1="673.0" x2="677.5" y1="387.00" y2="387.00"/>
<text class="tk" text-anchor="end" transform="translate(407.2,390.3) scale(0.835,1)">470</text>
<line class="gd" x1="413.5" x2="677.5" y1="411.65" y2="411.65"/>
<line class="tm" x1="413.5" x2="418.0" y1="411.65" y2="411.65"/>
<line class="tm" x1="673.0" x2="677.5" y1="411.65" y2="411.65"/>
<line class="gd" x1="413.5" x2="677.5" y1="436.30" y2="436.30"/>
<line class="tm" x1="413.5" x2="418.0" y1="436.30" y2="436.30"/>
<line class="tm" x1="673.0" x2="677.5" y1="436.30" y2="436.30"/>
<text class="tk" text-anchor="end" transform="translate(407.2,441.0) scale(0.835,1)">450</text>
<line class="gd" x1="413.5" x2="677.5" y1="460.95" y2="460.95"/>
<line class="tm" x1="413.5" x2="418.0" y1="460.95" y2="460.95"/>
<line class="tm" x1="673.0" x2="677.5" y1="460.95" y2="460.95"/>
<text class="tk" text-anchor="end" transform="translate(407.2,490.3) scale(0.835,1)">430</text>
<line class="vl" x1="501.50" x2="501.50" y1="337.7" y2="485.6"/>
<line class="vl" x1="589.50" x2="589.50" y1="337.7" y2="485.6"/>
<path class="cv" stroke="#3a66b8" d="M413.5,407.2 L414.1,404.3 L414.7,402.1 L415.3,401.4 L415.8,402.9 L416.4,407.2 L417.3,408.2 L418.2,407.7 L419.1,408.2 L419.9,407.7 L420.8,407.2 L421.4,405.0 L422.0,401.4 L422.6,397.7 L423.1,396.0 L423.7,395.6 L424.3,396.6 L424.9,397.0 L425.5,396.3 L426.1,395.6 L426.6,393.4 L427.2,393.1 L427.8,396.3 L428.4,397.7 L429.0,398.5 L429.6,399.9 L430.1,400.7 L430.7,400.4 L431.3,401.4 L431.9,403.3 L432.5,405.0 L433.1,407.2 L433.6,409.1 L434.2,410.1 L434.8,411.2 L435.7,412.0 L436.6,413.1 L437.4,413.5 L438.3,414.1 L439.2,413.8 L440.1,414.1 L440.9,415.0 L441.8,416.0 L442.7,417.0 L443.6,417.9 L444.4,419.6 L445.3,421.4 L446.2,423.3 L447.1,424.3 L448.0,424.0 L448.8,423.7 L449.7,424.3 L450.6,426.2 L451.5,428.4 L452.3,430.1 L453.2,432.0 L454.1,433.5 L455.0,435.4 L455.8,438.6 L456.7,441.5 L457.6,443.7 L458.5,443.3 L459.3,441.5 L460.2,439.3 L461.1,438.3 L462.0,437.9 L462.9,437.7 L463.7,437.4 L464.6,437.6 L465.5,437.1 L466.4,436.9 L467.2,437.1 L468.1,436.9 L469.0,437.4 L469.9,438.3 L470.7,439.3 L471.6,439.8 L472.5,438.9 L473.4,438.6 L474.2,437.9 L475.1,437.4 L476.0,436.9 L476.9,437.1 L477.7,437.4 L478.6,437.9 L479.2,436.9 L480.1,436.4 L480.9,435.0 L481.8,432.8 L482.7,430.1 L483.6,429.1 L484.2,431.0 L484.7,429.9 L485.3,428.7 L485.9,429.6 L486.8,428.4 L487.7,427.7 L488.5,426.9 L489.4,427.7 L490.3,427.2 L491.2,426.9 L492.0,427.2 L492.9,426.2 L493.5,425.2 L494.1,425.5 L494.7,423.3 L495.6,421.1 L496.4,418.9 L497.3,417.4 L498.2,417.9 L499.1,417.4 L499.9,417.0 L500.8,416.4 L501.4,414.2 L502.3,412.0 L503.2,409.9 L504.1,407.7 L504.9,405.8 L505.8,404.3 L506.7,403.3 L507.6,402.3 L508.4,401.8 L509.3,401.4 L510.2,401.1 L511.1,400.8 L511.9,400.4 L512.8,401.1 L513.7,401.4 L514.6,401.8 L515.4,402.0 L516.3,401.4 L517.2,400.8 L518.1,401.1 L518.9,400.8 L519.8,401.1 L520.7,400.8 L521.6,401.1 L522.5,401.1 L523.3,401.4 L524.2,402.3 L525.1,402.6 L526.0,402.9 L526.8,403.3 L527.7,403.4 L528.6,403.7 L529.5,404.3 L530.3,404.7 L531.2,405.2 L532.1,405.8 L533.0,406.6 L533.8,407.7 L534.7,408.7 L535.6,410.1 L536.5,411.3 L537.3,412.0 L538.2,412.5 L539.1,412.0 L540.0,411.6 L540.8,412.0 L541.4,413.1 L542.0,415.0 L542.6,415.4 L543.2,413.5 L543.8,411.3 L544.3,409.9 L544.9,409.1 L545.5,410.1 L546.1,408.4 L546.7,407.2 L547.3,404.0 L547.9,401.1 L548.4,399.6 L549.0,400.4 L549.6,403.3 L550.2,404.7 L550.8,401.4 L551.4,400.8 L551.9,401.8 L552.5,404.0 L553.1,405.2 L553.7,404.7 L554.3,406.2 L554.9,405.8 L555.4,404.7 L556.0,405.5 L556.6,407.2 L557.2,407.7 L557.8,405.5 L558.4,404.7 L558.9,403.3 L559.5,401.4 L560.1,400.4 L560.7,400.8 L561.3,402.6 L561.9,405.2 L562.5,405.8 L563.0,404.0 L563.6,401.8 L564.2,399.6 L564.8,397.9 L565.4,396.0 L566.0,394.5 L566.5,393.8 L567.1,393.1 L567.7,388.0 L568.3,385.0 L568.9,389.4 L569.5,396.0 L570.0,396.7 L570.6,392.3 L571.2,386.5 L571.8,389.4 L572.4,391.6 L573.0,392.3 L573.5,390.1 L574.1,388.0 L574.7,384.3 L575.3,382.9 L575.9,385.8 L576.5,388.7 L577.0,390.1 L577.6,392.3 L578.2,395.3 L578.8,397.4 L579.4,396.7 L580.0,392.3 L580.5,388.7 L581.1,386.5 L581.7,381.4 L582.3,377.7 L582.9,377.0 L583.5,381.4 L584.0,386.5 L584.6,390.1 L585.2,390.9 L585.8,388.0 L586.4,382.1 L587.0,377.0 L587.5,375.6 L588.1,376.3 L588.7,383.6 L589.3,390.9 L589.7,393.1 L590.6,395.3 L591.5,397.0 L592.3,397.9 L593.2,397.4 L594.1,397.0 L594.7,395.3 L595.3,393.1 L595.9,390.9 L596.4,389.7 L597.3,389.4 L598.2,390.6 L599.1,392.6 L599.9,395.6 L600.8,397.0 L601.7,397.4 L602.6,395.6 L603.4,392.3 L604.3,390.1 L605.2,388.7 L606.1,388.2 L606.9,389.1 L607.8,389.4 L608.7,388.7 L609.6,387.7 L610.5,388.2 L611.3,390.1 L612.2,390.9 L613.1,390.1 L613.7,387.2 L614.2,385.0 L614.8,384.7 L615.4,386.5 L616.0,388.7 L616.6,391.6 L617.5,394.5 L618.3,397.4 L619.2,397.9 L620.1,396.7 L621.0,396.4 L621.8,396.7 L622.7,396.4 L623.6,396.0 L624.5,396.1 L625.3,396.4 L626.2,396.0 L627.1,395.6 L628.0,396.4 L628.8,395.6 L629.7,395.0 L630.6,395.6 L631.5,396.1 L632.3,396.4 L633.2,396.7 L634.1,397.0 L635.0,396.7 L635.9,397.0 L636.7,396.7 L637.6,397.0 L638.5,398.2 L639.4,399.6 L640.2,400.4 L641.1,400.8 L642.0,401.1 L642.9,401.1 L643.7,400.8 L644.6,400.4 L645.5,399.9 L646.4,399.6 L647.2,399.6 L648.1,399.3 L649.0,399.1 L649.9,399.6 L650.7,399.9 L651.6,400.8 L652.5,401.4 L653.4,402.0 L654.2,402.3 L655.1,402.1 L656.0,402.0 L656.9,401.7 L657.7,401.1 L658.6,399.9 L659.5,398.5 L660.4,397.0 L661.2,396.0 L662.1,395.6 L663.0,396.0 L663.9,395.8 L664.8,395.6 L665.6,394.5 L666.5,393.1 L667.4,392.0 L668.3,391.3 L669.1,391.2 L670.0,391.6 L670.9,392.3 L671.8,393.1 L672.6,393.8 L673.5,395.0 L674.4,396.1 L675.3,397.3 L676.1,398.5 L677.0,399.3 L677.5,399.6"/>
<rect class="fr" x="413.5" y="337.7" width="264.0" height="147.9"/>
</g>
<text class="tk" text-anchor="middle" transform="translate(54.5,503.9) scale(0.835,1)">0</text>
<text class="tk" text-anchor="middle" transform="translate(142.1,503.9) scale(0.835,1)">8</text>
<text class="tk" text-anchor="middle" transform="translate(229.8,503.9) scale(0.835,1)">16</text>
<text class="tk" text-anchor="middle" transform="translate(317.4,503.9) scale(0.835,1)">24</text>
<text class="ax" text-anchor="middle" x="190.3" y="523.9">UT (hr)</text>
<text class="tk" text-anchor="middle" transform="translate(414.5,501.6) scale(0.835,1)">0</text>
<text class="tk" text-anchor="middle" transform="translate(502.5,501.6) scale(0.835,1)">8</text>
<text class="tk" text-anchor="middle" transform="translate(590.5,501.6) scale(0.835,1)">16</text>
<text class="tk" text-anchor="middle" transform="translate(678.5,501.6) scale(0.835,1)">24</text>
<text class="ax" text-anchor="middle" x="548.2" y="522.8">UT (hr)</text>
<text class="ax" text-anchor="middle" x="187.5" y="14.2">CBT</text>
<text class="ax" text-anchor="middle" x="547.1" y="12.2">DAF</text>
<text class="ax" text-anchor="middle" x="194" y="558.6" style="font-weight:bold;font-size:17.8px">(a)</text>
<text class="ax" text-anchor="middle" x="548.7" y="559.2" style="font-weight:bold;font-size:17.8px">(b)</text>
<text class="ax" style="font-size:17.7px" text-anchor="middle" transform="translate(12.4,89.8) rotate(-90)">Δ<tspan font-style="italic">H</tspan> (nT)</text>
<text class="ax" style="font-size:17.7px" text-anchor="middle" transform="translate(12.4,251) rotate(-90)">Δ<tspan font-style="italic">D</tspan> (arcmin.)</text>
<text class="ax" style="font-size:17.7px" text-anchor="middle" transform="translate(12.4,408.8) rotate(-90)">Δ<tspan font-style="italic">Z</tspan> (nT)</text>
<text class="ax" style="font-size:17.7px" text-anchor="middle" transform="translate(372.4,90.0) rotate(-90)">Δ<tspan font-style="italic">H</tspan> (nT)</text>
<text class="ax" style="font-size:17.7px" text-anchor="middle" transform="translate(374.2,252) rotate(-90)">Δ<tspan font-style="italic">D</tspan> (arcmin.)</text>
<text class="ax" style="font-size:17.7px" text-anchor="middle" transform="translate(373.7,409.7) rotate(-90)">Δ<tspan font-style="italic">Z</tspan> (nT)</text>
</svg></body></html>
